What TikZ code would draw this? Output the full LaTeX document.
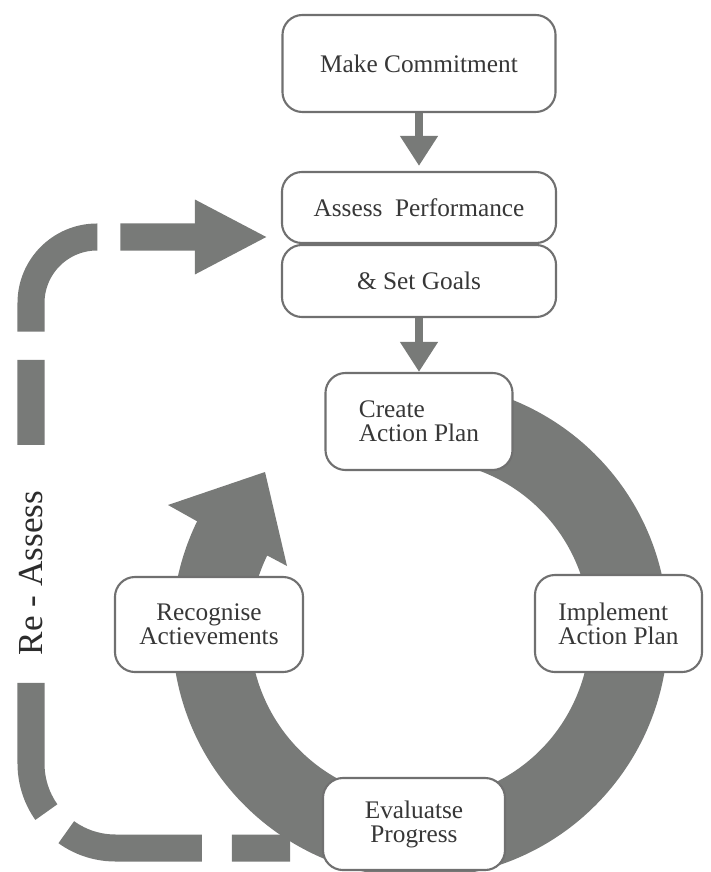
\documentclass[tikz,border=0pt]{standalone}
\usepackage{fontspec}
\setmainfont{Liberation Serif}
\usetikzlibrary{arrows.meta,calc}
\definecolor{bandgray}{RGB}{120,122,120}
\definecolor{edgegray}{RGB}{112,112,112}
\definecolor{textgray}{RGB}{55,55,55}

\begin{document}
\begin{tikzpicture}[x=0.025cm, y=-0.025cm,
    stage/.style={draw=edgegray, line width=1.5pt, fill=white, rounded corners=0.5cm,
        text=textgray, font=\fontsize{18}{17}\selectfont, inner sep=0pt, align=center},
    flowarrow/.style={draw=bandgray, line width=0.2cm, -{Triangle[width=0.9cm,length=0.75cm]}},
    reassess/.style={draw=bandgray, line width=0.675cm, -{Triangle[width=1.725cm,length=1.825cm]},
        dash pattern=on 1.45cm off 0.75cm on 3.475cm off 0.71cm on 3.31cm off 5.95cm
            on 2.125cm off 0.7cm on 3.32cm off 0.575cm on 12.5cm off 1cm}]
    \useasboundingbox (0,0) rectangle (710,872);

    % Cycle band with its arrow head, behind the four stages
    \coordinate (hub) at (420,630);
    \fill[bandgray] ($(hub)+(-100:248)$) arc[start angle=-100, end angle=206, radius=248]
        -- (168,505) -- (265,472) -- (287,566)
        -- ($(hub)+(206:170)$) arc[start angle=206, end angle=-100, radius=170] -- cycle;

    % Stages
    \node[stage, minimum width=6.825cm, minimum height=2.425cm] (commit) at (419,63.5) {Make Commitment};
    \node[stage, minimum width=6.85cm, minimum height=1.775cm] (assess) at (419,207.5) {Assess\ \ Performance};
    \node[stage, minimum width=6.85cm, minimum height=1.8cm] (goals) at (419,281) {\& Set Goals};
    \node[stage, minimum width=4.675cm, minimum height=2.425cm, align=left] (create) at (419,421.5) {Create\\Action Plan};
    \node[stage, minimum width=4.175cm, minimum height=2.425cm, align=left] (implement) at (618.5,623.5) {Implement\\Action Plan};
    \node[stage, minimum width=4.55cm, minimum height=2.3cm] (evaluate) at (414,824) {Evaluatse\\Progress};
    \node[stage, minimum width=4.7cm, minimum height=2.375cm] (recognise) at (209,624.5) {Recognise\\Actievements};

    % Down arrows
    \draw[flowarrow, shorten >=0.125cm] (commit) -- (assess);
    \draw[flowarrow] (goals) -- (create);

    % Re-assess loop back to the top
    \coordinate (loopstart) at (290,848);
    \coordinate (loopend) at (282,237);
    \draw[reassess, shorten >=0.35cm] (loopstart) -- (115.5,848)
        arc[start angle=90, end angle=180, radius=84.5] -- (31,303)
        arc[start angle=180, end angle=270, radius=66] -- (loopend);
    \node[rotate=90, text=textgray!80!black, font=\fontsize{25}{25}\selectfont] (relabel) at (31,573) {Re - Assess};
\end{tikzpicture}
\end{document}
